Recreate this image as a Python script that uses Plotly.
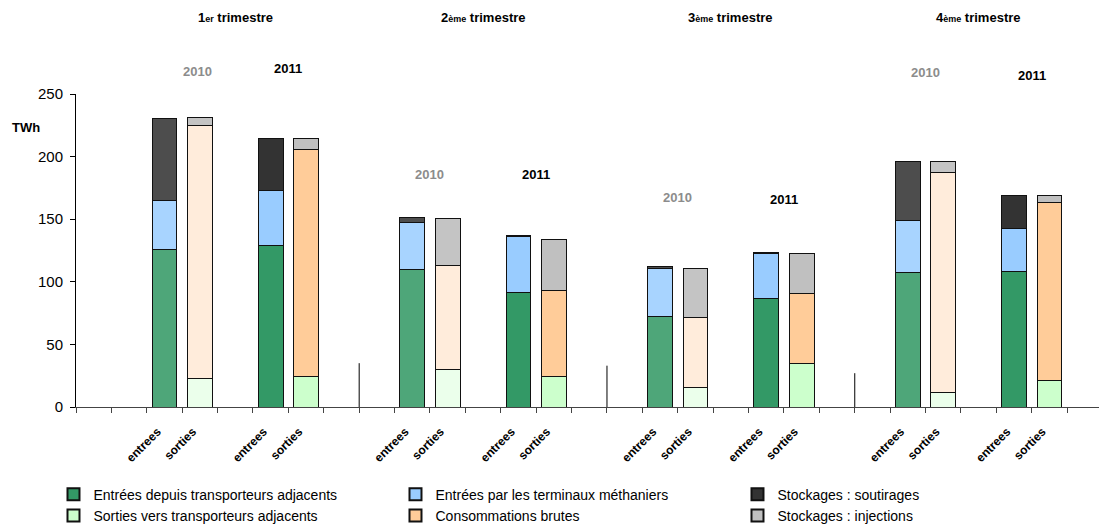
import plotly.graph_objects as go

# ---------------- data (TWh) ----------------
quarters = ["1<span style='font-size:9px'>er</span> trimestre",
            "2<span style='font-size:9px'>ème</span> trimestre",
            "3<span style='font-size:9px'>ème</span> trimestre",
            "4<span style='font-size:9px'>ème</span> trimestre"]
years = ["2010", "2011"]
bar_labels = ["entrees", "sorties"]

# entrees side
entrees_adjacents_2010 = [126.2, 109.9, 72.1, 107.3]
entrees_adjacents_2011 = [128.8, 91.8, 86.7, 108.1]
terminaux_2010 = [38.6, 37.3, 38.6, 41.3]
terminaux_2011 = [44.2, 44.0, 36.0, 34.3]
soutirages_2010 = [65.5, 4.2, 1.9, 47.1]
soutirages_2011 = [41.8, 1.0, 1.0, 26.6]

# sorties side
sorties_adjacents_2010 = [22.4, 30.1, 15.4, 11.2]
sorties_adjacents_2011 = [24.2, 24.2, 35.1, 20.8]
consommations_2010 = [202.5, 83.3, 55.9, 176.5]
consommations_2011 = [181.8, 68.7, 55.9, 142.4]
injections_2010 = [6.1, 37.0, 39.7, 8.0]
injections_2011 = [8.8, 40.5, 32.0, 5.8]

separator_heights = [35, 33, 27]
year_label_y = [[268, 270], [186, 186], [167, 166], [267, 264.5]]

Y_MAX = 250

# ---------------- layout of category slots ----------------
SLOTS_PER_Q = 7
def slot(q, year_idx, side_idx):
    return q * SLOTS_PER_Q + 2 + 3 * year_idx + side_idx

series = [
    # name, side, values 2010, values 2011, colour 2010, colour 2011
    ("Entrées depuis transporteurs adjacents", 0, entrees_adjacents_2010, entrees_adjacents_2011, "#4ea679", "#339966"),
    ("Entrées par les terminaux méthaniers", 0, terminaux_2010, terminaux_2011, "#a8d4ff", "#99ccff"),
    ("Stockages : soutirages", 0, soutirages_2010, soutirages_2011, "#4d4d4d", "#333333"),
    ("Sorties vers transporteurs adjacents", 1, sorties_adjacents_2010, sorties_adjacents_2011, "#ebffeb", "#ccffcc"),
    ("Consommations brutes", 1, consommations_2010, consommations_2011, "#ffecdb", "#ffcc99"),
    ("Stockages : injections", 1, injections_2010, injections_2011, "#c4c4c4", "#c0c0c0"),
]

fig = go.Figure()
for idx, (name, side, v10, v11, c10, c11) in enumerate(series):
    xs, ys, cs = [], [], []
    # 2011 first so that the legend swatch uses the 2011 colour
    for yi, vals, col in [(1, v11, c11), (0, v10, c10)]:
        for q in range(4):
            xs.append(slot(q, yi, side))
            ys.append(vals[q])
            cs.append(col)
    fig.add_trace(go.Bar(
        x=xs, y=ys, name=name, width=0.7, legendrank=idx + 1,
        marker=dict(color=cs, line=dict(color="#111111", width=1)),
    ))

# separators between quarters
sx, sy = [], []
for i, h in enumerate(separator_heights):
    xv = (i + 1) * SLOTS_PER_Q + 0.5
    sx += [xv, xv, None]
    sy += [0, h, None]
fig.add_trace(go.Scatter(x=sx, y=sy, mode="lines", line=dict(color="black", width=1),
                         showlegend=False, hoverinfo="skip"))

# tick labels (rotated labels end slightly left of the bar centre)
LABEL_OFFSET = -0.2
tickvals, ticktext = [], []
for q in range(4):
    for yi in range(2):
        for side in range(2):
            tickvals.append(slot(q, yi, side) + LABEL_OFFSET)
            ticktext.append(bar_labels[side])
n_slots = 4 * SLOTS_PER_Q + 1
minor_vals = [k - 0.5 for k in range(n_slots + 1)]

annotations = []
for q in range(4):
    annotations.append(dict(
        x=q * SLOTS_PER_Q + 4, xref="x", y=1.246, yref="paper",
        text="<b>" + quarters[q] + "</b>", showarrow=False,
        font=dict(family="Liberation Sans, Arial", size=13, color="black"),
        xanchor="center", yanchor="middle"))
    for yi in range(2):
        annotations.append(dict(
            x=q * SLOTS_PER_Q + 2.5 + 3 * yi, xref="x",
            y=year_label_y[q][yi] / Y_MAX, yref="paper",
            text="<b>" + years[yi] + "</b>", showarrow=False,
            xshift=15 if (q == 0 and yi == 0) else 0,
            font=dict(family="Liberation Sans, Arial", size=13,
                      color="#8c8c8c" if yi == 0 else "black"),
            xanchor="center", yanchor="middle"))
annotations.append(dict(
    x=-0.049, xref="paper", y=(407 - 127) / 313, yref="paper",
    text="<b>TWh</b>", showarrow=False,
    font=dict(family="Liberation Sans, Arial", size=13, color="black"),
    xanchor="center", yanchor="middle"))

fig.update_layout(
    width=1099, height=524,
    margin=dict(l=76, r=0, t=94, b=117, autoexpand=False),
    barmode="stack",
    paper_bgcolor="white", plot_bgcolor="white",
    font=dict(family="Liberation Sans, Arial", color="black"),
    showlegend=True,
    legend=dict(orientation="h", x=-0.022, xanchor="left", y=-0.229, yanchor="top",
                entrywidth=297, entrywidthmode="pixels", traceorder="normal",
                font=dict(family="Liberation Sans, Arial", size=14, color="black"),
                tracegroupgap=0, itemsizing="constant", bgcolor="rgba(0,0,0,0)"),
    xaxis=dict(range=[-0.5, 28.4], showgrid=False, zeroline=False,
               showline=True, linecolor="#444444", linewidth=1,
               tickmode="array", tickvals=tickvals, ticktext=ticktext,
               ticks="", tickangle=-45, ticklabelstandoff=12,
               tickfont=dict(family="Liberation Sans, Arial", size=12, color="black", weight="bold"),
               minor=dict(tickmode="array", tickvals=minor_vals, ticks="outside",
                          ticklen=5, tickcolor="#444444", showgrid=False),
               automargin=False),
    yaxis=dict(range=[0, Y_MAX], dtick=50, showgrid=False, zeroline=False,
               showline=True, linecolor="black", linewidth=1,
               ticks="outside", ticklen=5, tickcolor="black", ticklabelstandoff=4,
               tickfont=dict(family="Liberation Sans, Arial", size=15, color="black"),
               automargin=False),
    annotations=annotations,
)

fig.write_html("out.html", config={"displayModeBar": False},
               post_script="document.body.style.margin='0';document.body.style.overflow='hidden';")
